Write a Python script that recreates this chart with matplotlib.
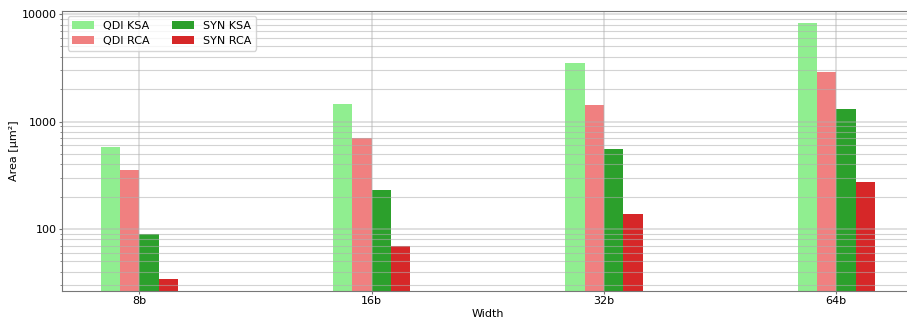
import matplotlib.pyplot as plt
import numpy as np

widths = ['8b', '16b', '32b', '64b']
qdi_ksa = [579, 1445, 3500, 8300]
qdi_rca = [354, 702, 1423, 2870]
syn_ksa = [89.3, 229, 555, 1306]
syn_rca = [34.3, 69, 138, 274]

series = [
    ('QDI KSA', qdi_ksa, 'lightgreen'),
    ('QDI RCA', qdi_rca, 'lightcoral'),
    ('SYN KSA', syn_ksa, 'tab:green'),
    ('SYN RCA', syn_rca, 'tab:red'),
]

fig = plt.figure(figsize=(9.07, 3.22), dpi=100)
ax = fig.add_axes([0.0684, 0.0963, 0.939, 0.871])

x = np.arange(len(widths))
w = 1 / 12
for i, (name, vals, col) in enumerate(series):
    ax.bar(x + (i - 1.5) * w, vals, w, label=name, color=col)

ax.set_yscale('log')
ax.set_ylim(26.5, 10800)
ax.set_xlim(-1 / 3, 10 / 3)
ax.set_xticks(x)
ax.set_xticklabels(widths)
ax.set_yticks([100, 1000, 10000])
ax.set_yticklabels(['100', '1000', '10000'])
ax.tick_params(labelsize=8, length=2.2, pad=1.3, color='#777777')
ax.tick_params(which='minor', length=1.3, color='#777777')

ax.grid(which='major', color='#b0b0b0', linewidth=1.4, alpha=0.4)
ax.grid(which='minor', axis='y', color='#b0b0b0', linewidth=0.8, alpha=0.55)

for s in ax.spines.values():
    s.set_color('#777777')

ax.set_xlabel('Width', fontsize=8, labelpad=2)
ax.set_ylabel('Area [µm²]', fontsize=8, labelpad=2)
ax.legend(loc='upper left', ncol=2, fontsize=8)

fig.savefig('out.png', dpi=100)
